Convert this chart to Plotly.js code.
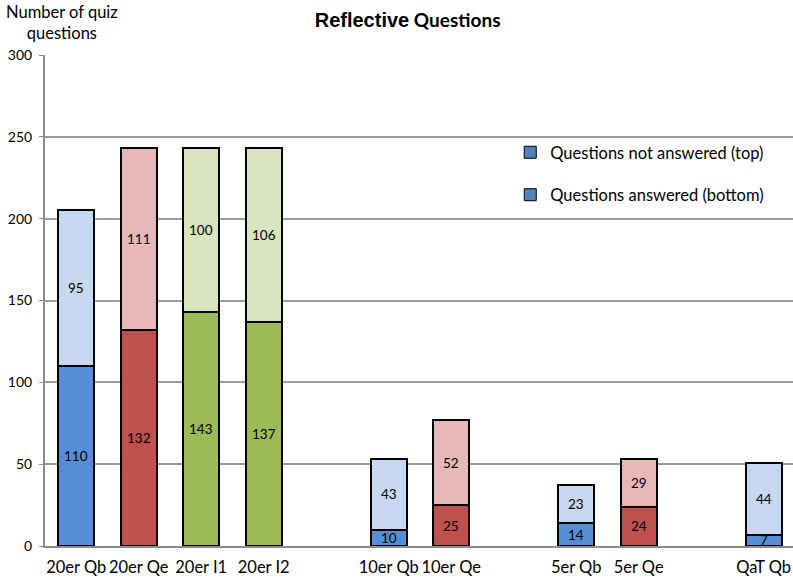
<!DOCTYPE html>
<html>
<head>
<meta charset="utf-8">
<script src="https://cdn.plot.ly/plotly-3.0.1.min.js"></script>
<style>
  html, body { margin: 0; padding: 0; background: #ffffff; }
  #chart { width: 793px; height: 580px; }
</style>
</head>
<body>
<div id="chart"></div>
<script>
// Quiz groups, with blank slots separating the 20er / 10er / 5er / QaT blocks
const slots = ["20er Qb", "20er Qe", "20er I1", "20er I2", " ",
               "10er Qb", "10er Qe", "  ",
               "5er Qb", "5er Qe", "   ",
               "QaT Qb"];

// Blue series (Qb)
const blueCats = ["20er Qb", "10er Qb", "5er Qb", "QaT Qb"];
const blueAnswered = [110, 10, 14, 7];
const blueNotAnswered = [95, 43, 23, 44];

// Red series (Qe)
const redCats = ["20er Qe", "10er Qe", "5er Qe"];
const redAnswered = [132, 25, 24];
const redNotAnswered = [111, 52, 29];

// Green series (I1 / I2)
const greenCats = ["20er I1", "20er I2"];
const greenAnswered = [143, 137];
const greenNotAnswered = [100, 106];

const yTicks = [0, 50, 100, 150, 200, 250, 300];

const FONT = "Lato, 'Open Sans', sans-serif";
const outline = { color: "#000000", width: 2 };

function bar(cats, vals, color) {
  return {
    type: "bar", x: cats, y: vals,
    marker: { color: color, line: outline },
    textposition: "none", hoverinfo: "x+y",
    showlegend: false
  };
}

const traces = [
  bar(blueCats, blueAnswered, "#558ED5"),
  bar(redCats, redAnswered, "#C0504D"),
  bar(greenCats, greenAnswered, "#9BBB59"),
  bar(blueCats, blueNotAnswered, "#C6D9F1"),
  bar(redCats, redNotAnswered, "#E6B9B8"),
  bar(greenCats, greenNotAnswered, "#D7E4BD"),
  // legend keys
  { type: "bar", x: [null], y: [null], name: "Questions not answered (top)",
    legendgroup: "top", marker: { color: "#4F81BD", line: { color: "#000", width: 1 } } },
  { type: "bar", x: [null], y: [null], name: "Questions answered (bottom)",
    legendgroup: "bottom", marker: { color: "#4F81BD", line: { color: "#000", width: 1 } } }
];

// Value labels centred in each segment
const annotations = [];
function addLabels(cats, bottom, top) {
  cats.forEach((c, i) => {
    annotations.push({ x: c, y: bottom[i] / 2, text: String(bottom[i]), showarrow: false,
      font: { family: FONT, size: 13.5, color: "#000" } });
    annotations.push({ x: c, y: bottom[i] + top[i] / 2, text: String(top[i]), showarrow: false,
      font: { family: FONT, size: 13.5, color: "#000" } });
  });
}
addLabels(blueCats, blueAnswered, blueNotAnswered);
addLabels(redCats, redAnswered, redNotAnswered);
addLabels(greenCats, greenAnswered, greenNotAnswered);

annotations.push({
  xref: "paper", yref: "paper", x: 0.023, y: 1.0, xanchor: "center", yanchor: "bottom",
  yshift: 10, text: "Number of quiz<br>questions", align: "center", showarrow: false,
  font: { family: FONT, size: 16.5, color: "#000" }
});

const layout = {
  width: 793, height: 580,
  margin: { l: 45, r: 0, t: 55, b: 34, pad: 0 },
  paper_bgcolor: "#ffffff", plot_bgcolor: "#ffffff",
  barmode: "stack", bargap: 0.42,
  title: {
    text: "<b><span style=\"font-family:'Liberation Sans', Arial, sans-serif;font-size:20px\">Reflective</span> <span style=\"font-size:19px\">Questions</span></b>",
    font: { family: FONT, size: 19, color: "#000" },
    x: 0.514, xanchor: "center", y: 0.965, yanchor: "middle"
  },
  xaxis: {
    type: "category", categoryorder: "array", categoryarray: slots,
    range: [-0.5, 11.47], fixedrange: true,
    showline: true, linecolor: "#8C8C8C", linewidth: 2,
    ticks: "", showgrid: false,
    tickfont: { family: FONT, size: 16.5, color: "#000" },
    ticklabelstandoff: 5
  },
  yaxis: {
    range: [0, 300], tickvals: yTicks, fixedrange: true,
    showline: true, linecolor: "#8C8C8C", linewidth: 2,
    ticks: "outside", ticklen: 4, tickwidth: 1, tickcolor: "#8C8C8C",
    showgrid: true, gridcolor: "#9A9A9A", gridwidth: 2,
    zeroline: false,
    tickfont: { family: FONT, size: 14, color: "#000" },
    ticklabelstandoff: 4
  },
  showlegend: true,
  legend: {
    x: 0.622, y: 0.837, xanchor: "left", yanchor: "top",
    traceorder: "grouped", tracegroupgap: 18,
    bgcolor: "rgba(0,0,0,0)",
    font: { family: FONT, size: 16.5, color: "#000" },
    itemwidth: 30
  },
  annotations: annotations
};

Plotly.newPlot("chart", traces, layout, { displayModeBar: false, staticPlot: true });
</script>
</body>
</html>
